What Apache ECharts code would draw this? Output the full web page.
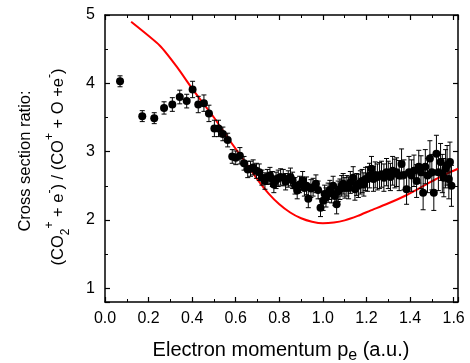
<!DOCTYPE html>
<html>
<head>
<meta charset="utf-8">
<script src="https://cdn.jsdelivr.net/npm/echarts@6/dist/echarts.min.js"></script>
<style>
html,body{margin:0;padding:0;background:#fff;}
#chart{width:470px;height:363px;}
</style>
</head>
<body>
<div id="chart"></div>
<script>
// Experimental ratio: momentum (a.u.), ratio, error
const expX = [0.069,0.171,0.226,0.271,0.309,0.343,0.375,0.402,0.428,0.454,0.477,0.502,0.521,0.541,0.563,0.584,0.600,0.619,0.638,0.655,
0.668,0.680,0.695,0.708,0.720,0.734,0.745,0.757,0.768,0.775,0.785,0.795,0.806,0.818,0.829,0.841,0.851,0.861,0.872,0.882,
0.893,0.907,0.915,0.925,0.933,0.945,0.955,0.968,0.978,0.989,1.001,1.008,1.014,1.024,1.032,1.040,1.047,1.055,1.063,1.070,
1.078,1.086,1.093,1.101,1.110,1.118,1.126,1.139,1.147,1.155,1.163,1.172,1.180,1.188,1.196,1.205,1.214,1.223,1.232,1.240,
1.250,1.260,1.269,1.280,1.292,1.300,1.310,1.320,1.330,1.338,1.350,1.361,1.372,1.384,1.395,1.407,1.418,1.430,1.440,1.450,
1.460,1.470,1.480,1.491,1.500,1.509,1.521,1.530,1.540,1.548,1.555,1.563,1.570,1.578,1.583,1.590];
const expY = [4.03,3.52,3.49,3.64,3.69,3.80,3.74,3.91,3.69,3.71,3.56,3.34,3.34,3.26,3.17,2.93,2.91,2.94,2.83,2.74,
2.75,2.77,2.72,2.70,2.62,2.57,2.63,2.65,2.60,2.52,2.58,2.61,2.63,2.62,2.56,2.60,2.63,2.58,2.50,2.43,
2.52,2.58,2.47,2.50,2.31,2.46,2.48,2.53,2.44,2.18,2.28,2.38,2.33,2.40,2.44,2.39,2.50,2.35,2.23,2.42,
2.45,2.50,2.53,2.47,2.50,2.47,2.55,2.62,2.45,2.52,2.50,2.55,2.57,2.52,2.60,2.60,2.65,2.75,2.60,2.66,
2.63,2.65,2.67,2.62,2.70,2.66,2.63,2.72,2.68,2.70,2.65,2.82,2.66,2.45,2.70,2.65,2.72,2.57,2.78,2.70,
2.40,2.78,2.65,2.90,2.70,2.40,2.97,2.70,2.85,2.68,2.62,2.75,2.80,2.60,2.85,2.50];
const expErr = [0.08,0.08,0.08,0.09,0.10,0.10,0.10,0.12,0.12,0.12,0.12,0.12,0.12,0.10,0.10,0.10,0.10,0.12,0.10,0.12,
0.11,0.11,0.11,0.12,0.11,0.12,0.11,0.12,0.11,0.12,0.12,0.12,0.12,0.12,0.12,0.12,0.13,0.12,0.12,0.12,
0.12,0.13,0.12,0.13,0.13,0.13,0.13,0.13,0.13,0.13,0.14,0.13,0.14,0.14,0.14,0.14,0.14,0.14,0.14,0.15,
0.15,0.15,0.15,0.15,0.15,0.16,0.16,0.16,0.16,0.16,0.17,0.17,0.17,0.17,0.17,0.18,0.18,0.18,0.18,0.19,
0.19,0.19,0.19,0.20,0.20,0.20,0.20,0.21,0.21,0.21,0.22,0.22,0.22,0.22,0.23,0.23,0.23,0.24,0.24,0.24,
0.25,0.25,0.25,0.26,0.26,0.26,0.27,0.27,0.27,0.28,0.28,0.28,0.29,0.29,0.29,0.30];

// Theory curve
const thX = [0.12,0.252,0.33,0.405,0.50,0.573,0.65,0.70,0.75,0.80,0.85,0.90,0.95,1.00,1.05,1.10,1.16,1.22,1.29,1.368,1.44,1.49,1.52,1.57,1.62];
const thY = [4.90,4.55,4.24,3.90,3.50,3.16,2.82,2.59,2.39,2.23,2.11,2.025,1.975,1.952,1.963,1.995,2.06,2.14,2.23,2.34,2.46,2.55,2.60,2.68,2.75];

const FONT = 'Liberation Sans, Arial, sans-serif';
const expData = expX.map((x,i)=>[x, expY[i], expErr[i]]);
const thData = thX.map((x,i)=>[x, thY[i]]);

const chart = echarts.init(document.getElementById('chart'), null, {renderer:'canvas'});

const axisCommon = {
  axisLine:{show:true, onZero:false, lineStyle:{color:'#000', width:1.5}},
  axisTick:{show:true, inside:true, length:5, lineStyle:{color:'#000', width:1.2}},
  minorTick:{show:true, splitNumber:2, length:3, lineStyle:{color:'#000', width:1}},
  splitLine:{show:false}
};

const option = {
  animation:false,
  backgroundColor:'#fff',
  grid:{left:105, right:12, top:15, bottom:61, containLabel:false},
  xAxis:[
    Object.assign({type:'value', position:'bottom', min:0, max:1.62, interval:0.2,
      axisLabel:{show:true, color:'#000', fontSize:16, fontFamily:FONT, margin:9, showMaxLabel:false,
        formatter:v=>v.toFixed(1)}}, axisCommon),
    Object.assign({type:'value', position:'top', min:0, max:1.62, interval:0.2,
      axisLabel:{show:false}}, axisCommon)
  ],
  yAxis:[
    Object.assign({type:'value', position:'left', min:0.8, max:5, splitNumber:4,
      axisLabel:{show:true, color:'#000', fontSize:16, fontFamily:FONT, margin:10, showMinLabel:false,
        formatter:v=>String(v)}}, axisCommon),
    Object.assign({type:'value', position:'right', min:0.8, max:5, splitNumber:4,
      axisLabel:{show:false}}, axisCommon)
  ],
  series:[
    {
      type:'line', xAxisIndex:0, yAxisIndex:0, data:thData, smooth:0.2, showSymbol:false,
      lineStyle:{color:'#ff0000', width:2}, z:2
    },
    {
      type:'custom', xAxisIndex:0, yAxisIndex:0, data:expData, encode:{x:0, y:1}, z:3,
      renderItem:function(params, api){
        const x = api.value(0), y = api.value(1), e = api.value(2);
        const hi = api.coord([x, y+e]);
        const lo = api.coord([x, y-e]);
        const w = 2.5;
        const st = {stroke:'#000', lineWidth:1};
        return {type:'group', children:[
          {type:'line', shape:{x1:hi[0], y1:hi[1], x2:lo[0], y2:lo[1]}, style:st},
          {type:'line', shape:{x1:hi[0]-w, y1:hi[1], x2:hi[0]+w, y2:hi[1]}, style:st},
          {type:'line', shape:{x1:lo[0]-w, y1:lo[1], x2:lo[0]+w, y2:lo[1]}, style:st}
        ]};
      }
    },
    {
      type:'scatter', xAxisIndex:0, yAxisIndex:0, data:expData.map(d=>[d[0],d[1]]),
      symbol:'circle', symbolSize:8, itemStyle:{color:'#000', opacity:1}, z:4
    }
  ],
  graphic:[
    {
      type:'text', x:25, y:161, rotation:Math.PI/2,
      style:{text:'Cross section ratio:', font:'16.5px ' + FONT, fill:'#000', align:'center', verticalAlign:'middle'}
    },
    {
      type:'text', x:58, y:167, rotation:Math.PI/2,
      style:{
        text:'(CO{sub|2}{sup|+} + e{sup|-}) / (CO{sup|+} + O +e{sup|-})',
        fontSize:16.5, fontFamily:FONT, fill:'#000', align:'center', verticalAlign:'middle',
        lineHeight:28,
        rich:{
          sup:{fontSize:12, fontFamily:FONT, fill:'#000', verticalAlign:'top', lineHeight:28},
          sub:{fontSize:12, fontFamily:FONT, fill:'#000', verticalAlign:'bottom', lineHeight:28}
        }
      }
    },
    {
      type:'text', x:281, y:350,
      style:{
        text:'Electron momentum p{sub|e} (a.u.)',
        fontSize:20, fontFamily:FONT, fill:'#000', align:'center', verticalAlign:'middle',
        lineHeight:28,
        rich:{
          sub:{fontSize:16, fontFamily:FONT, fill:'#000', verticalAlign:'bottom', lineHeight:28}
        }
      }
    }
  ]
};
chart.setOption(option);
</script>
</body>
</html>
